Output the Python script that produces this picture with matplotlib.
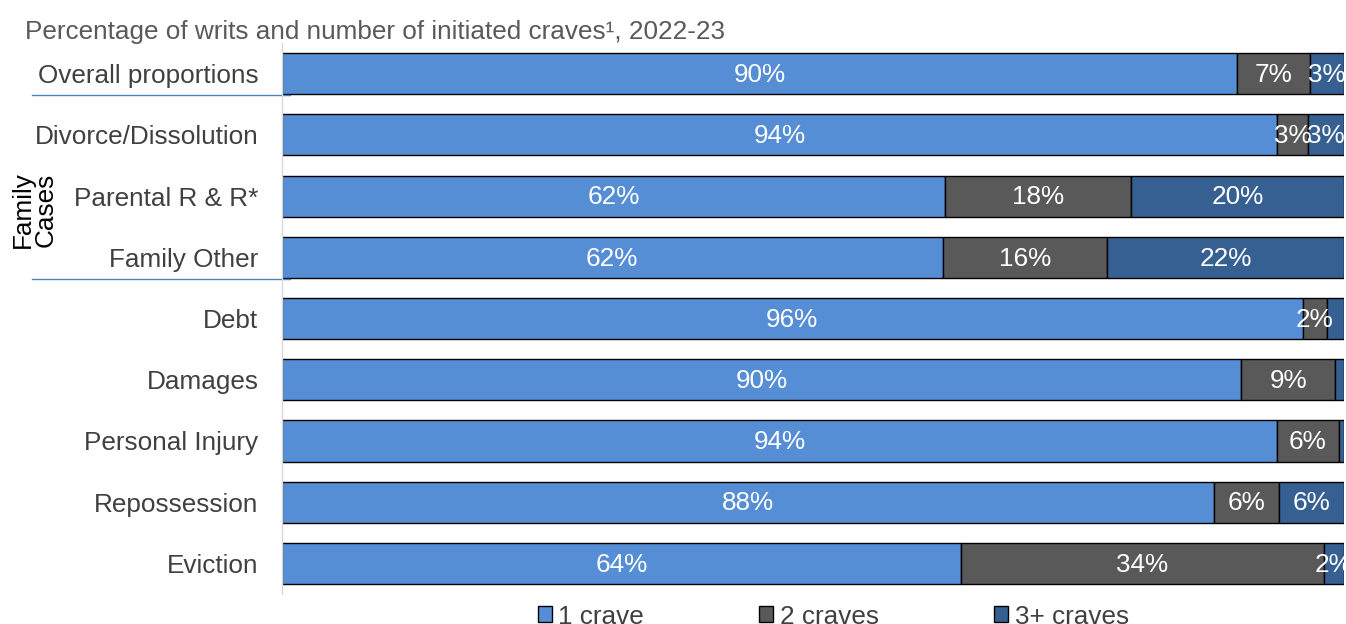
import matplotlib
matplotlib.use("Agg")
import matplotlib.pyplot as plt
import matplotlib.transforms as mtransforms
from matplotlib.patches import Patch

plt.rcParams['font.family'] = ['Liberation Sans', 'DejaVu Sans']

categories = ["Overall proportions", "Divorce/Dissolution", "Parental R & R*", "Family Other",
              "Debt", "Damages", "Personal Injury", "Repossession", "Eviction"]
one_crave = [89.9, 93.7, 62.4, 62.2, 96.1, 90.3, 93.7, 87.8, 63.9]
two_craves = [6.9, 2.9, 17.5, 15.5, 2.3, 8.9, 5.8, 6.1, 34.2]
three_craves = [3.2, 3.4, 20.1, 22.3, 1.6, 0.8, 0.5, 6.1, 1.9]
labels_one = ["90%", "94%", "62%", "62%", "96%", "90%", "94%", "88%", "64%"]
labels_two = ["7%", "3%", "18%", "16%", "2%", "9%", "6%", "6%", "34%"]
labels_three = ["3%", "3%", "20%", "22%", "", "", "", "6%", "2%"]
series_names = ["1 crave", "2 craves", "3+ craves"]
title = "Percentage of writs and number of initiated craves\u00b9, 2022-23"

colors = ["#558ED5", "#595959", "#366092"]
FS = 18.8

fig = plt.figure(figsize=(13.46, 6.24), dpi=100)
ax = fig.add_axes([0.2095, 0.048, 0.789, 0.883])

pos = list(range(len(categories)))
h = 0.67
left = [0.0] * len(categories)
for vals, labs, col in zip([one_crave, two_craves, three_craves],
                           [labels_one, labels_two, labels_three], colors):
    bars = ax.barh(pos, vals, left=left, height=h, color=col, edgecolor="black", linewidth=1.0)
    for i, (b, lab) in enumerate(zip(bars, labs)):
        if lab:
            ax.text(left[i] + vals[i] / 2, pos[i] + 0.02, lab, ha="center", va="center",
                    color="white", fontsize=FS)
    left = [l + v for l, v in zip(left, vals)]

ax.set_xlim(0, 100)
ax.set_ylim(len(categories) - 0.5, -0.5)
ax.set_yticks(pos)
ax.set_yticklabels(categories, fontsize=FS, color="#404040")
ax.tick_params(axis="y", length=0, pad=17)
ax.set_xticks([])
for s in ["top", "right", "bottom"]:
    ax.spines[s].set_visible(False)
ax.spines["left"].set_color("#D9D9D9")
ax.spines["left"].set_linewidth(1.0)

fig.text(25 / 1346, 1 - 39 / 624, title, fontsize=FS, color="#595959", ha="left", va="baseline")

tr = mtransforms.blended_transform_factory(fig.transFigure, ax.transData)
for yrow in [0 + h / 2 + 0.02, 3 + h / 2 + 0.02]:
    ax.plot([32 / 1346, 290 / 1346], [yrow, yrow], transform=tr, color="#4F81BD",
            linewidth=1.0, clip_on=False)

fig.text(34 / 1346, 2.22, "Family\nCases", transform=tr, rotation=90, ha="center", va="center",
         fontsize=FS, color="black", linespacing=0.95)

handles = [Patch(facecolor=c, edgecolor="black", linewidth=1.0) for c in colors]
fig.legend(handles, series_names, loc="center", bbox_to_anchor=(0.619, 0.012), ncol=3,
           frameon=False, fontsize=FS, handlelength=0.55, handleheight=0.55, handletextpad=0.25,
           columnspacing=4.4, labelcolor="#404040", borderpad=0)

fig.savefig("out.png", dpi=100)
